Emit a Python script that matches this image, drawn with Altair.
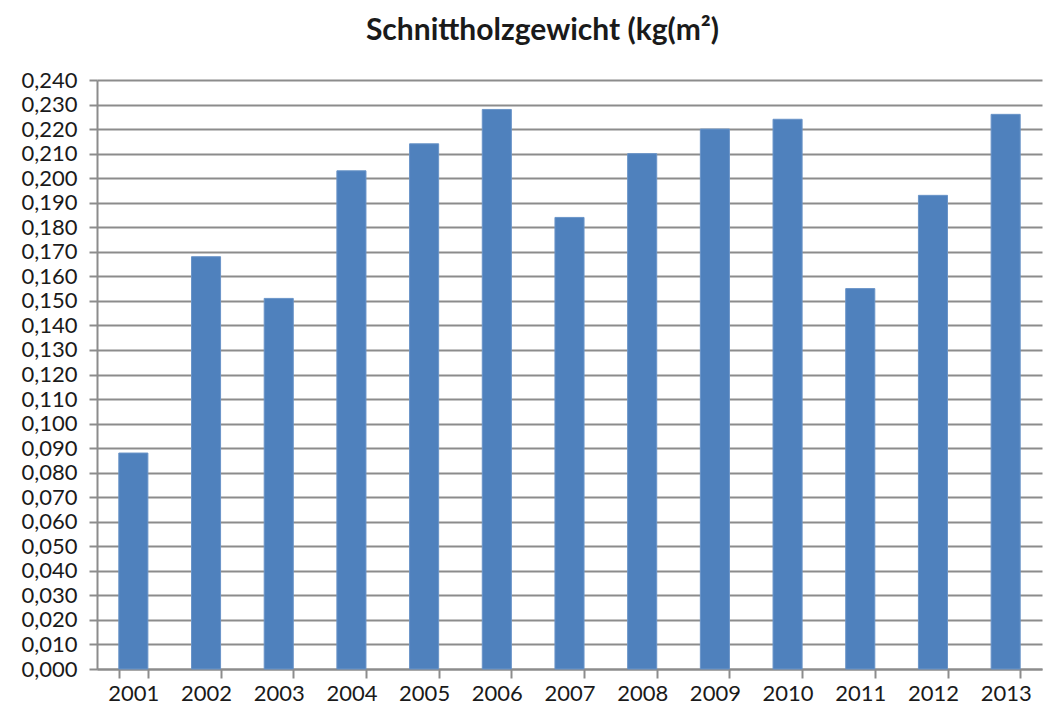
import altair as alt
import pandas as pd

years = ["2001", "2002", "2003", "2004", "2005", "2006", "2007",
         "2008", "2009", "2010", "2011", "2012", "2013"]
values = [0.088, 0.168, 0.151, 0.203, 0.214, 0.228, 0.184,
          0.210, 0.220, 0.224, 0.155, 0.193, 0.226]
y_ticks = [round(i * 0.01, 3) for i in range(25)]

df = pd.DataFrame({"Jahr": years, "Wert": values})

grid_col = "#8c8c8c"
font = "Lato"

chart = alt.Chart(df).mark_bar(color="#4F81BD", stroke="#6a94c8", strokeWidth=1).encode(
    x=alt.X("Jahr:N", sort=years, title=None,
            scale=alt.Scale(paddingInner=0.6, paddingOuter=0.3),
            axis=alt.Axis(labelAngle=0, labelFont=font, labelFontSize=22,
                          labelColor="#1a1a1a", labelPadding=5,
                          tickBand="extent", tickSize=9, tickColor=grid_col,
                          tickWidth=2, domainColor=grid_col, domainWidth=2,
                          grid=False)),
    y=alt.Y("Wert:Q", title=None,
            scale=alt.Scale(domain=[0, 0.24], nice=False),
            axis=alt.Axis(values=y_ticks,
                          labelExpr="replace(format(datum.value, '.3f'), '.', ',')",
                          labelFont=font, labelFontSize=22, labelColor="#1a1a1a",
                          labelPadding=12, tickSize=8, tickColor=grid_col,
                          tickWidth=2, domainColor=grid_col, domainWidth=2,
                          grid=True, gridColor=grid_col, gridWidth=2)),
).properties(
    width=945,
    height=589,
    title=alt.TitleParams("Schnittholzgewicht (kg(m²)", font=font, fontSize=30,
                          fontWeight="bold", color="#1a1a1a", dx=-27, offset=23),
    autosize=alt.AutoSizeParams(type="none"),
    padding={"left": 89, "top": 72, "right": 1, "bottom": 36},
).configure_view(stroke=None)

chart.save("out.html", embed_options={"renderer": "svg", "actions": False})
